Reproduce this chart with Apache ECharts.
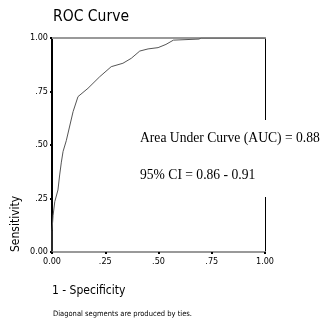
<!DOCTYPE html>
<html><head><meta charset="utf-8">
<script src="https://cdn.jsdelivr.net/npm/echarts@6/dist/echarts.min.js"></script>
<style>html,body{margin:0;padding:0;background:#fff}#c{width:323px;height:320px}</style>
</head><body><div id="c"></div>
<script>
var fpr = [0, 0, 0.005, 0.013, 0.028, 0.036, 0.044, 0.052, 0.067, 0.099, 0.122, 0.169, 0.224, 0.278, 0.333, 0.372, 0.412, 0.451, 0.498, 0.535, 0.570, 0.690, 0.700, 1.0];
var tpr = [0, 0.10, 0.17, 0.235, 0.29, 0.36, 0.42, 0.47, 0.52, 0.656, 0.726, 0.765, 0.819, 0.866, 0.882, 0.905, 0.939, 0.949, 0.955, 0.97, 0.99, 0.995, 1.0, 1.0];
var tickLabels = {0: '0.00', 0.25: '.25', 0.5: '.50', 0.75: '.75', 1: '1.00'};
var titleText = 'ROC Curve';
var xName = '1 - Specificity';
var yName = 'Sensitivity';
var footnote = 'Diagonal segments are produced by ties.';
var aucLine = 'Area Under Curve (AUC) = 0.88';
var ciLine = '95% CI = 0.86 - 0.91';

var SANS = '"DejaVu Sans Condensed", "DejaVu Sans", sans-serif';
var SERIF = '"Liberation Serif", "DejaVu Serif", serif';
function fmt(v){ return tickLabels[v] !== undefined ? tickLabels[v] : ''; }
var pts = fpr.map(function(x,i){ return [x, tpr[i]]; });

var chart = echarts.init(document.getElementById('c'), null, {renderer:'canvas'});
chart.setOption({
  animation: false,
  backgroundColor: '#fff',
  grid: {left: 52, right: 58, top: 38, bottom: 68, show: false},
  xAxis: [{
    type: 'value', min: 0, max: 1, interval: 0.25, position: 'bottom',
    axisLine: {show: true, onZero: false, lineStyle: {color: '#999', width: 2}},
    axisTick: {show: true, inside: false, length: 2, lineStyle: {color: '#000', width: 2}},
    axisLabel: {formatter: fmt, color: '#000', fontSize: 9, fontFamily: SANS, margin: 5},
    splitLine: {show: false}
  }, {
    type: 'value', min: 0, max: 1, position: 'top',
    axisLine: {show: true, onZero: false, lineStyle: {color: '#999', width: 2}},
    axisTick: {show: false}, axisLabel: {show: false}, splitLine: {show: false}
  }],
  yAxis: [{
    type: 'value', min: 0, max: 1, interval: 0.25, position: 'left',
    axisLine: {show: true, onZero: false, lineStyle: {color: '#000', width: 2}},
    axisTick: {show: true, inside: false, length: 2, lineStyle: {color: '#000', width: 2}},
    axisLabel: {formatter: fmt, color: '#000', fontSize: 9, fontFamily: SANS, margin: 4},
    splitLine: {show: false}
  }, {
    type: 'value', min: 0, max: 1, position: 'right',
    axisLine: {show: true, onZero: false, lineStyle: {color: '#000', width: 1}},
    axisTick: {show: false}, axisLabel: {show: false}, splitLine: {show: false}
  }],
  series: [{
    type: 'line', data: pts, xAxisIndex: 0, yAxisIndex: 0, showSymbol: false, symbol: 'none',
    lineStyle: {color: '#555', width: 1}, z: 3
  }],
  graphic: [
    {type: 'text', left: 53, top: 9, z: 10, style: {text: titleText, font: '15.5px ' + SANS, fill: '#000'}},
    {type: 'text', left: 52, top: 285, z: 10, style: {text: xName, font: '12px ' + SANS, fill: '#000'}},
    {type: 'text', left: 53, top: 310, z: 10, style: {text: footnote, font: '7.5px ' + SANS, fill: '#000'}},
    {type: 'text', x: 16, y: 252, rotation: Math.PI/2, z: 10, style: {text: yName, font: '12px ' + SANS, fill: '#000', align: 'left', verticalAlign: 'middle'}},
    {type: 'rect', shape: {x: 139, y: 120, width: 184, height: 77}, z: 9, style: {fill: '#fff'}},
    {type: 'text', x: 140, y: 138, z: 10, style: {text: aucLine, font: '13.6px ' + SERIF, fill: '#000', verticalAlign: 'middle'}},
    {type: 'text', x: 140, y: 175, z: 10, style: {text: ciLine, font: '13.6px ' + SERIF, fill: '#000', verticalAlign: 'middle'}}
  ]
});
</script></body></html>
